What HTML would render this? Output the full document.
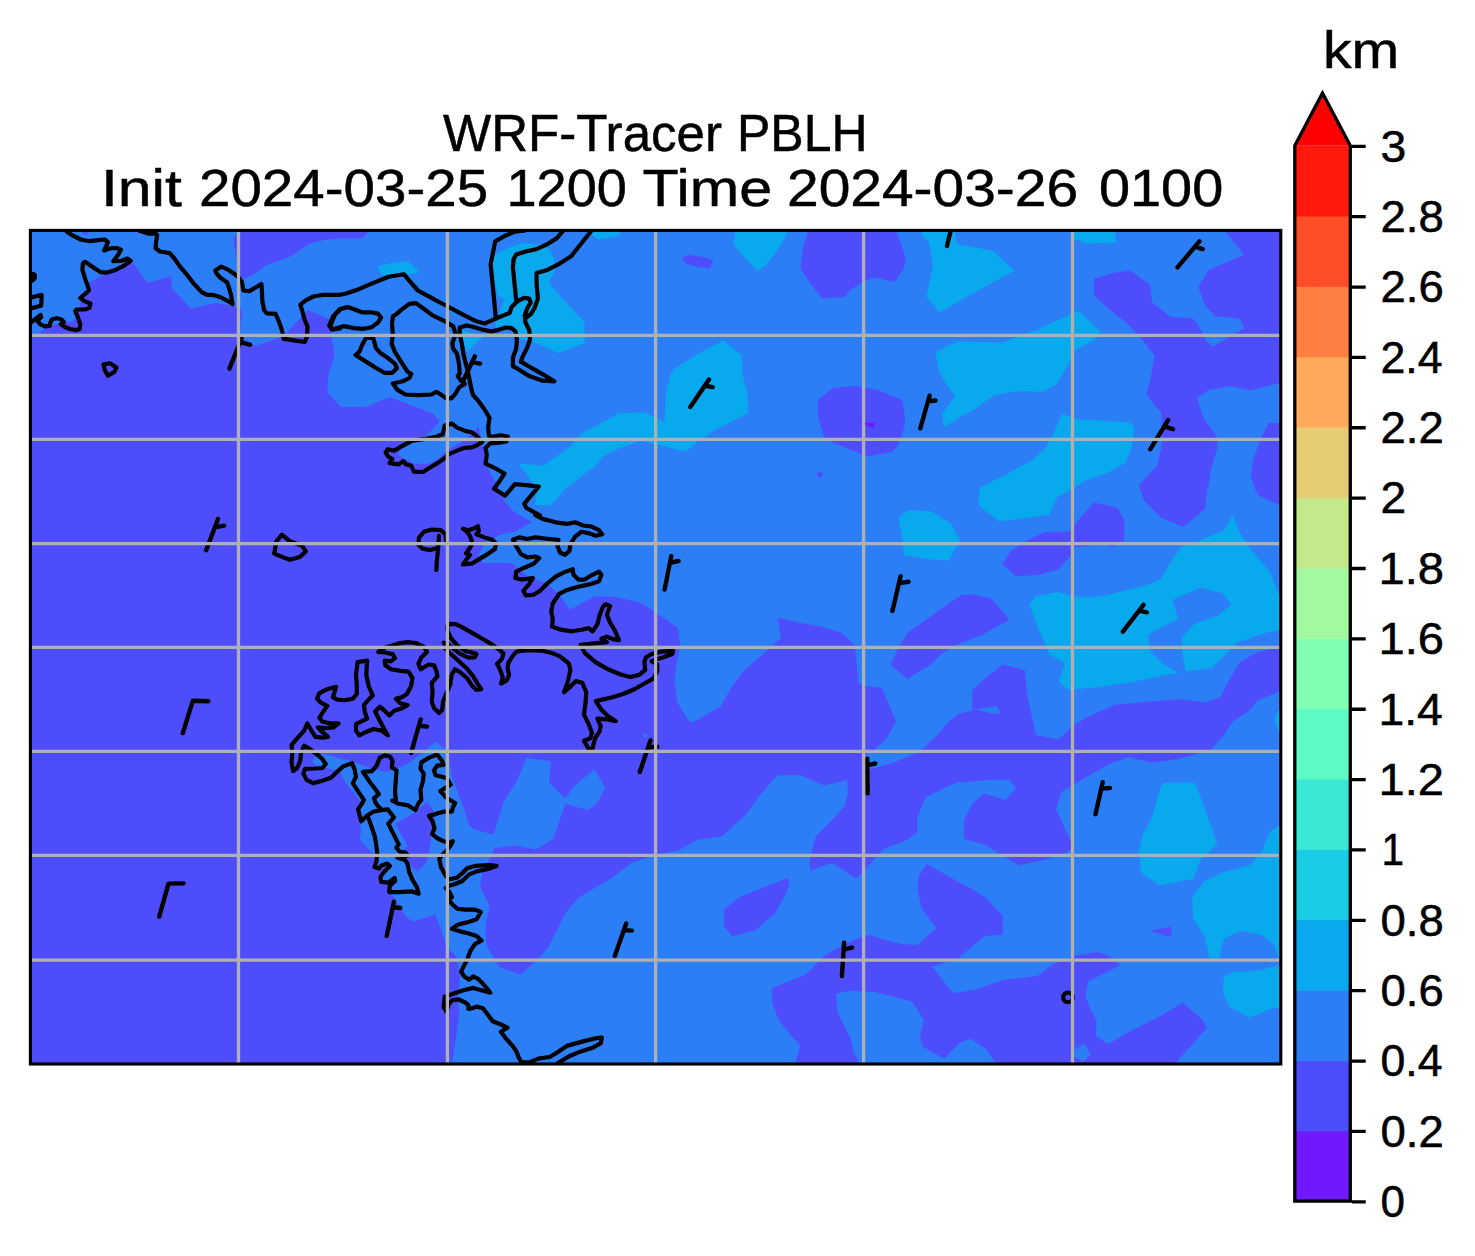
<!DOCTYPE html><html><head><meta charset="utf-8"><title>WRF-Tracer PBLH</title><style>html,body{margin:0;padding:0;background:#fff}svg{display:block}text{font-family:"Liberation Sans",sans-serif;fill:#000;stroke:#000;stroke-width:0.5px}</style></head><body>
<svg width="1475" height="1256" viewBox="0 0 1475 1256">
<rect width="1475" height="1256" fill="#fff"/>
<defs><clipPath id="mc"><rect x="30.4" y="230.4" width="1250.4" height="833.6"/></clipPath></defs>
<g clip-path="url(#mc)" shape-rendering="geometricPrecision">
<rect x="30.4" y="230.4" width="1250.4" height="833.6" fill="#2c7ef7"/>
<polygon points="28.0,333.9 31.9,333.9 37.4,333.7 44.9,328.5 51.5,325.8 62.3,322.5 73.2,320.9 76.9,318.2 79.1,310.0 79.9,304.1 81.3,300.3 85.1,294.8 89.4,282.4 102.4,275.3 115.5,269.9 128.5,256.9 132.8,262.8 147.5,282.9 171.3,275.9 171.9,288.3 180.0,297.0 190.8,308.4 215.8,303.0 232.1,305.7 240.2,307.9 242.9,313.3 241.0,322.0 240.2,337.1 255.9,345.8 283.0,336.6 308.0,310.0 329.7,319.2 331.8,338.2 334.5,355.7 328.5,375.4 327.2,392.5 341.0,406.9 366.0,406.9 389.6,397.1 433.0,413.5 439.6,421.4 433.0,429.3 424.4,436.8 412.6,440.1 404.7,447.3 396.8,454.5 415.2,463.7 428.3,463.7 438.8,458.5 446.7,449.9 463.8,440.7 478.9,426.3 479.6,436.8 482.8,443.4 484.2,455.2 488.1,468.3 495.3,481.5 503.9,499.9 513.7,511.7 532.1,522.2 515.0,531.4 501.9,534.2 486.0,541.4 479.6,552.5 478.0,554.9 482.8,562.9 511.4,562.9 525.8,574.8 546.4,583.6 559.2,593.9 569.5,609.8 595.0,596.3 615.7,597.0 639.6,602.2 655.6,612.6 677.9,627.7 680.3,646.0 676.3,665.1 674.7,681.0 677.0,701.8 687.4,719.3 692.2,722.8 720.9,706.5 731.2,687.4 744.0,670.2 765.3,652.3 781.0,637.7 777.6,617.6 796.6,622.0 821.2,626.5 842.5,633.3 854.8,645.6 857.0,665.7 858.1,682.5 863.7,685.8 881.6,688.0 896.2,721.2 886.0,739.5 874.8,749.3 864.0,756.0 864.0,770.7 893.4,762.7 920.0,751.2 935.3,737.3 948.7,721.6 960.0,713.8 972.3,710.4 972.3,690.3 986.8,676.9 1002.5,664.6 1024.9,670.2 1027.1,694.8 1031.6,714.9 1036.1,735.1 1058.4,739.5 1072.5,726.1 1085.3,718.3 1114.4,704.8 1150.2,701.5 1180.4,699.3 1206.1,702.6 1220.6,697.0 1228.5,681.4 1239.7,662.3 1257.6,652.3 1282.2,646.7 1282.2,690.3 1257.6,700.4 1248.6,711.6 1232.9,721.6 1224.0,735.1 1210.6,750.0 1210.5,749.9 1194.8,754.7 1173.4,760.0 1152.1,762.7 1128.1,757.3 1109.4,764.0 1088.1,776.0 1061.4,792.0 1056.0,809.4 1065.4,829.4 1074.7,848.0 1061.4,854.7 1042.7,860.0 1018.7,865.4 1005.4,857.4 986.7,845.4 964.0,838.7 964.0,820.0 973.3,802.7 984.0,793.4 1005.4,800.0 1016.0,788.0 1009.4,779.5 986.7,780.0 960.0,782.7 962.8,780.0 944.1,788.0 925.4,797.4 917.4,817.4 917.4,832.0 906.8,840.0 882.8,849.4 866.8,868.1 856.1,878.7 832.1,862.7 810.7,870.7 809.4,864.1 812.1,849.4 816.1,836.0 829.4,822.7 844.1,806.7 848.1,793.4 846.8,780.0 824.1,785.4 800.1,775.2 777.4,775.2 761.4,793.4 746.7,813.4 722.7,836.0 697.4,840.0 677.3,850.7 656.0,854.7 640.0,860.0 632.1,862.7 610.7,878.7 578.7,897.4 565.4,913.4 549.4,945.4 538.7,958.8 520.0,974.8 498.7,966.8 486.7,945.4 485.4,926.7 489.4,905.4 480.0,886.7 482.7,870.7 490.7,857.4 494.7,848.0 514.7,845.4 536.0,849.4 553.4,838.7 558.7,822.7 565.4,804.0 588.1,809.9 597.4,802.7 604.9,788.0 594.7,769.3 573.4,786.7 565.4,798.7 549.4,782.7 550.7,761.3 526.7,758.1 517.4,780.0 504.0,801.4 493.4,834.7 474.7,829.4 469.3,825.4 461.3,801.4 452.0,777.3 448.0,752.0 445.2,748.9 435.6,741.7 418.1,756.1 410.1,762.4 397.4,768.8 386.2,772.0 371.9,768.8 352.8,761.6 336.9,757.6 325.7,754.1 316.2,755.3 312.2,760.8 317.0,766.4 324.1,767.2 340.0,771.2 344.8,781.5 352.8,791.1 359.2,800.0 362.1,802.2 357.3,809.3 361.3,830.0 359.7,839.6 370.0,850.7 376.4,855.5 376.1,861.9 374.2,867.3 379.1,869.2 381.5,866.0 386.8,864.3 383.6,871.4 379.6,877.0 380.5,882.3 388.4,883.4 393.9,878.6 389.1,885.8 388.4,892.6 393.9,896.9 401.9,909.6 405.9,916.8 413.0,921.6 435.3,914.4 440.1,927.1 447.2,947.2 456.1,956.1 460.2,976.5 457.8,997.6 459.4,1013.9 456.1,1038.3 451.3,1066.0 28.0,1066.0" fill="#4e4dfc"/>
<polygon points="681.2,258.0 688.8,254.7 702.9,256.9 713.8,260.1 709.4,268.8 696.4,266.6 686.6,264.5" fill="#4e4dfc"/>
<polygon points="808.1,230.8 802.7,248.2 800.5,268.8 811.4,285.1 822.2,298.5 845.0,297.0 849.4,290.5 863.5,281.8 873.2,277.5 894.9,281.8 903.6,268.8 905.8,259.1 900.3,241.7 896.0,230.8" fill="#4e4dfc"/>
<polygon points="833.1,388.1 854.8,386.0 878.6,390.3 902.5,400.1 904.7,415.3 904.7,426.1 898.2,445.6 891.7,452.1 867.8,456.5 848.3,448.9 824.4,439.1 817.9,415.3 817.9,400.1" fill="#4e4dfc"/>
<polygon points="816.2,473.8 821.2,471.2 823.3,474.9 819.6,478.2" fill="#4e4dfc"/>
<polygon points="1224.0,230.1 1244.1,254.7 1208.3,270.3 1198.3,287.1 1205.0,305.0 1215.1,316.2 1239.7,318.4 1244.1,328.5 1212.8,346.4 1206.1,340.8 1198.3,325.2 1192.7,318.4 1170.3,316.7 1152.4,302.8 1150.2,284.9 1130.0,270.3 1112.1,273.2 1094.2,278.6 1094.2,296.1 1112.1,311.7 1125.6,321.8 1141.2,338.6 1154.6,355.4 1151.3,374.4 1146.8,393.4 1154.6,405.7 1161.4,412.4 1161.4,448.2 1156.9,466.1 1139.0,485.1 1143.5,500.1 1161.4,518.0 1183.7,527.0 1205.0,509.1 1208.3,480.0 1208.3,490.0 1210.6,470.6 1217.3,448.2 1217.3,437.0 1203.9,419.1 1197.2,397.9 1208.3,390.0 1230.7,386.0 1250.8,390.5 1282.2,382.2 1282.2,230.1" fill="#4e4dfc"/>
<polygon points="1282.2,423.6 1268.7,422.5 1259.8,441.5 1253.1,459.4 1250.8,475.1 1255.3,490.0 1258.7,495.7 1282.2,506.4" fill="#4e4dfc"/>
<polygon points="1094.2,502.4 1117.7,508.0 1124.4,520.3 1124.4,540.4 1113.3,547.1 1103.2,544.4 1074.1,547.1 1072.5,553.8 1058.4,569.5 1038.3,575.1 1015.9,576.2 1002.5,563.9 1010.3,551.6 1024.9,541.5 1045.0,531.9 1069.6,531.5 1080.8,516.9" fill="#4e4dfc"/>
<polygon points="960.0,595.2 971.2,594.5 991.3,598.6 1009.2,619.8 982.4,634.4 960.0,641.1" fill="#4e4dfc"/>
<polygon points="1149.4,930.7 1170.8,926.7 1172.1,932.1 1169.4,936.9" fill="#4e4dfc"/>
<polygon points="926.8,864.1 960.0,882.7 973.3,889.4 986.7,898.7 1002.7,916.1 1002.7,934.7 985.3,936.1 973.3,945.4 957.5,958.8 932.1,966.8 953.5,993.4 960.0,992.1 976.0,989.4 1002.7,980.1 1037.4,976.1 1053.4,964.1 1074.7,956.1 1097.4,952.1 1109.4,956.1 1120.1,965.4 1088.1,981.4 1085.4,996.1 1090.7,1009.4 1096.1,1020.1 1096.1,1036.1 1108.1,1044.1 1130.7,1030.8 1162.7,1014.8 1182.8,1002.8 1202.8,1020.1 1206.8,1028.1 1194.8,1041.5 1173.4,1065.5 997.3,1065.5 986.7,1049.5 970.7,1038.8 960.0,1042.8 944.1,1058.8 922.8,1046.8 920.1,1036.1 924.1,1020.1 912.1,1001.4 874.8,992.1 850.8,990.8 836.1,993.4 837.4,1012.1 842.7,1022.8 850.8,1038.8 853.4,1052.1 861.4,1066.0 794.7,1066.0 800.1,1045.5 789.4,1033.5 778.7,1020.1 772.1,1002.8 772.1,988.1 805.4,974.8 813.4,966.8 824.1,956.1 837.4,948.1 853.4,940.1 869.4,934.7 885.4,940.1 901.4,944.1 917.4,944.9 936.1,928.1 921.4,908.1 917.4,889.4 918.8,876.1" fill="#4e4dfc"/>
<polygon points="724.0,909.4 738.7,897.4 765.4,886.7 788.1,877.9 789.4,882.7 785.4,894.7 774.7,913.4 754.7,930.7 732.0,936.1 724.0,926.7" fill="#4e4dfc"/>
<polygon points="241.0,228.0 233.1,238.4 235.9,254.7 236.9,263.4 240.7,277.5 245.1,278.6 253.8,274.2 265.7,265.6 284.1,259.0 292.8,255.2 301.5,248.7 310.2,243.3 324.3,240.1 340.0,238.4 362.5,238.4 372.0,228.0" fill="#4e4dfc"/>
<polygon points="395.5,823.7 414.6,812.5 427.4,801.4 435.3,814.1 434.5,823.7 432.1,833.2 428.9,852.3 426.6,861.9 417.8,871.4 411.4,866.7 406.7,857.1 404.3,849.1 407.5,846.0" fill="#4e4dfc"/>
<polygon points="80.7,230.8 85.1,235.2 90.5,230.8" fill="#4e4dfc"/>
<polygon points="959.9,596.3 948.7,603.1 930.8,616.5 908.5,632.1 899.5,645.6 890.6,664.6 907.4,679.1 930.8,664.6 942.0,653.4 957.7,644.4 982.4,634.4 1009.2,619.8 991.3,598.6 971.2,594.5" fill="#4e4dfc"/>
<polygon points="975.7,709.3 996.9,706.0 1000.3,713.1 993.6,714.2" fill="#2c7ef7"/>
<polygon points="1074.7,1049.5 1084.1,1043.6 1090.7,1054.8 1082.7,1061.5 1073.4,1056.1" fill="#2c7ef7"/>
<circle cx="645.4" cy="735.7" r="2" fill="#2c7ef7"/>
<polygon points="499.1,252.6 509.6,247.3 524.1,242.7 539.9,244.7 549.1,248.6 554.3,259.2 555.6,268.4 549.1,282.8 562.2,298.6 584.5,322.2 584.5,343.2 558.2,353.1 547.7,348.5 532.0,341.3 521.5,339.3 516.2,337.3 510.9,328.8 496.5,330.1 495.8,322.9 501.8,306.5 504.4,299.2 497.8,295.9 495.2,284.1 489.3,264.4 488.6,259.2" fill="#09a9ee"/>
<polygon points="462.3,329.5 483.4,336.7 466.9,351.8 463.6,343.2" fill="#09a9ee"/>
<polygon points="588.5,230.9 597.7,239.5 620.0,235.5 620.0,230.9" fill="#09a9ee"/>
<polygon points="735.5,230.8 733.3,243.9 746.3,259.1 757.2,271.0 765.8,265.6 778.8,248.2 788.6,230.8" fill="#09a9ee"/>
<polygon points="1072.5,230.1 1074.1,239.0 1087.5,243.5 1116.6,242.4 1114.4,230.1" fill="#09a9ee"/>
<polygon points="1002.5,342.6 1018.2,336.3 1038.3,329.6 1054.0,321.8 1072.5,314.0 1078.6,310.6 1100.9,331.9 1094.2,339.7 1074.1,350.9 1069.6,363.2 1056.2,384.4 1042.8,391.8 1015.9,391.2 993.6,395.6 973.4,410.2 959.9,417.0 944.1,427.1 941.9,413.9 955.1,396.3 939.7,374.2 935.3,352.2 957.3,341.2" fill="#09a9ee"/>
<polygon points="975.7,490.0 980.1,487.4 1004.7,475.1 1031.6,460.5 1045.0,448.2 1054.0,432.5 1061.8,413.5 1076.3,419.1 1094.2,420.2 1130.0,422.5 1134.5,428.1 1131.2,448.2 1125.6,462.7 1107.7,472.8 1085.3,480.6 1071.9,488.9 1057.3,496.8 1049.5,514.7 999.2,521.4 977.9,504.6 980.1,487.8" fill="#09a9ee"/>
<polygon points="1232.9,514.7 1238.5,530.3 1248.6,547.1 1269.9,571.7 1278.8,594.1 1282.2,596.3 1282.2,629.9 1268.7,632.1 1237.4,642.2 1224.0,655.6 1211.7,667.9 1186.0,671.3 1161.4,675.8 1130.0,682.5 1098.7,686.9 1076.3,689.2 1069.6,690.3 1058.4,681.4 1065.2,663.5 1049.5,654.5 1042.8,638.8 1037.2,625.4 1029.4,604.2 1036.1,596.3 1058.4,591.9 1072.5,596.3 1087.5,597.5 1103.2,595.9 1130.0,589.6 1150.2,584.0 1161.4,578.4 1170.3,562.8 1181.5,547.1 1197.2,541.5 1224.0,530.3" fill="#09a9ee"/>
<polygon points="1282.2,709.3 1278.8,709.3 1274.3,719.4 1278.8,732.8 1282.2,732.8" fill="#09a9ee"/>
<polygon points="1162.7,782.7 1194.8,782.7 1202.8,802.7 1217.4,844.0 1200.1,860.0 1193.4,878.7 1160.1,885.4 1141.4,873.4 1138.7,852.0 1142.7,834.7 1152.1,817.4 1158.7,793.4" fill="#09a9ee"/>
<polygon points="1282.8,822.7 1269.5,832.0 1261.5,852.0 1249.5,865.4 1224.1,872.1 1204.1,881.4 1192.1,897.4 1193.4,918.7 1204.1,934.7 1209.4,957.4 1218.8,958.8 1224.1,938.7 1240.1,930.7 1261.5,934.7 1273.5,944.1 1278.8,958.8 1282.8,960.1" fill="#09a9ee"/>
<polygon points="1282.8,964.1 1258.8,970.8 1234.8,972.1 1224.1,976.1 1222.8,992.1 1229.4,1006.8 1249.5,1017.4 1269.5,1009.4 1282.8,1006.8" fill="#09a9ee"/>
<polygon points="377.7,266.6 388.6,263.4 408.1,261.2 420.0,272.1 412.4,274.2 403.8,273.8 390.8,274.7 382.1,275.3" fill="#09a9ee"/>
<polygon points="723.5,340.4 742.0,355.6 742.0,371.9 747.4,393.6 748.2,413.0 715.9,429.4 698.8,440.7 685.5,451.8 657.0,444.5 640.0,441.1 619.1,448.3 603.9,455.9 593.5,467.3 565.9,488.2 550.7,505.3 535.6,505.3 535.6,495.8 538.4,490.1 518.5,463.5 543.2,465.8 571.6,445.5 581.1,434.1 619.1,413.2 643.8,412.3 664.6,421.8 666.0,393.6 670.4,374.0 675.8,367.5 698.6,353.4" fill="#09a9ee"/>
<polygon points="898.4,518.0 908.5,510.2 930.8,511.3 951.0,523.6 959.9,540.4 948.7,560.5 930.8,559.4 904.0,554.9 901.8,535.9" fill="#09a9ee"/>
<polygon points="922.0,228.8 953.8,228.8 957.3,244.2 992.5,250.8 1014.6,270.7 966.1,297.1 939.7,312.5 926.4,297.1 933.1,264.1 928.6,242.0 922.0,235.4" fill="#09a9ee"/>
<polygon points="1172.5,599.7 1200.5,587.8 1221.8,593.0 1231.8,604.2 1218.4,615.4 1193.8,624.3 1181.5,637.7 1182.6,656.7 1186.0,672.0 1181.5,674.2 1165.8,665.7 1150.2,651.2 1147.9,634.4 1178.1,618.7" fill="#2c7ef7"/>
<polygon points="859.1,422.8 875.4,422.8 873.2,427.8 865.6,425.0" fill="#7019ff"/>
<path d="M66.6 231.4 L72.1 235.2 L80.7 239.5 L89.4 241.2 L98.1 240.1 L104.6 239.5 L107.9 242.2 L105.7 247.1 L104.1 250.4 L110.0 248.4 L116.5 248.0 L120.9 249.8 L118.2 254.7 L113.3 261.2 L120.9 261.0 L127.4 258.5 L130.6 260.7 L124.1 265.6 L115.5 269.9 L106.8 272.6 L100.3 272.1 L93.8 267.7 L85.1 261.8 L82.9 263.4 L82.4 269.9 L85.1 278.6 L87.8 286.2 L88.9 290.5 L84.0 294.8 L80.2 298.1 L85.1 301.4 L90.5 303.5 L89.4 307.9 L85.1 309.5 L76.4 309.5 L75.3 311.1 L78.0 317.6 L80.2 324.1 L79.7 329.0 L76.4 330.1 L69.9 329.0 L64.5 326.8 L60.7 324.1 L63.9 322.0 L61.2 319.3 L56.9 318.2 L52.0 319.3 L50.4 322.5 L49.8 325.8 L44.9 326.3 L40.1 324.1 L37.4 320.9 L41.2 317.1 L40.6 314.9 L30.8 322.5 M30.8 297.6 L41.7 294.8 L41.2 305.7 L30.8 308.4 M30.8 273.7 L34.6 274.8 L34.6 278.6 L30.8 281.3 M495.8 318.9 L494.5 303.8 L492.6 284.1 L490.6 264.4 L493.2 251.3 L495.2 241.4 L505.7 235.5 L514.9 231.6 L525.4 230.3 M563.5 230.3 L556.9 238.1 L546.4 244.7 L535.9 249.3 L524.1 251.9 L516.2 254.6 L513.6 259.2 L512.9 267.0 L514.2 280.2 L515.5 293.3 L516.2 301.2 M591.8 230.3 L581.9 242.7 L571.4 255.9 L558.2 264.4 L546.4 270.3 L536.6 273.0 L536.6 284.1 L537.9 298.6 L534.6 307.8 L530.7 314.3 L525.4 318.3 M329.2 325.5 L333.1 316.3 L339.7 309.1 L347.6 307.1 L355.5 309.7 L362.0 312.3 L371.2 312.3 L377.8 313.6 L381.1 317.6 L377.8 322.8 L371.2 327.4 L363.4 328.8 L354.2 328.1 L344.3 326.1 L337.1 328.1 L331.8 329.4 Z M440.0 318.9 L446.5 322.2 L453.1 326.1 L455.7 334.0 L452.4 343.2 L453.1 348.5 L457.0 353.7 L459.0 364.2 L459.7 373.4 L457.7 376.1 L461.0 380.7 L464.9 383.9 L459.3 387.2 L455.3 393.8 L451.4 398.4 L446.1 398.4 L440.9 394.5 L436.3 391.8 L431.7 394.5 L418.5 395.1 L405.4 394.5 L397.5 389.9 L392.9 383.5 L402.8 381.3 L409.3 378.0 L411.3 374.1 L407.4 371.5 L401.5 362.3 L394.9 351.8 L391.6 343.9 L392.9 334.7 L392.0 324.2 L392.9 316.3 L396.2 314.3 L401.5 309.7 L409.3 303.8 L415.9 303.1 L425.1 309.7 L433.0 315.6 Z M366.0 338.0 L362.0 345.2 L359.4 351.8 L355.5 355.0 L366.0 361.6 L376.5 368.2 L384.4 372.8 L392.3 372.8 L396.9 368.2 L394.9 363.6 L388.3 358.3 L380.4 353.1 L375.8 347.8 L374.5 342.6 L373.2 338.0 Z M444.7 425.6 L452.0 423.6 L457.2 427.6 L465.1 430.9 L471.7 432.2 L476.9 436.1 L482.2 442.0 L476.9 445.3 L471.7 447.3 L463.8 448.0 L457.2 450.6 L449.3 453.9 L444.1 458.5 L437.5 463.1 L429.6 467.7 L423.1 472.0 L413.9 471.6 L411.2 465.7 L406.0 464.4 L403.4 461.1 L398.8 464.4 L389.6 463.1 L392.2 459.1 L388.2 456.5 L385.6 452.6 L387.6 449.3 L394.2 450.6 L402.0 446.0 L412.6 440.7 L425.7 438.8 L436.2 436.8 L442.8 434.2 Z M438.2 547.8 L430.2 550.1 L422.3 548.6 L418.3 544.6 L419.1 537.4 L423.9 531.8 L431.8 529.5 L440.6 530.2 L445.4 534.2 L446.2 542.2 M439.0 535.8 L438.2 547.8 L436.9 560.5 L436.3 570.0 M462.9 528.7 L468.5 530.2 L473.2 528.7 L478.0 526.3 L478.8 531.0 L476.4 534.2 L484.4 537.4 L492.3 539.8 L496.3 543.8 L494.7 549.3 L487.6 554.1 L479.6 558.9 L471.6 563.7 L462.9 564.5 L466.9 558.9 L470.0 554.9 L466.1 553.3 L470.0 547.8 L472.4 543.0 L470.0 535.8 L466.9 531.8 Z M139.3 230.8 L148.0 233.6 L155.6 233.6 L157.2 235.2 L156.1 241.7 L155.6 248.2 L159.9 251.5 L169.7 253.1 L174.0 258.0 L180.0 266.6 L186.5 274.2 L194.1 284.0 L201.7 292.1 L207.1 294.8 L212.5 294.8 L220.1 297.0 L226.6 300.3 L232.6 304.1 L231.0 294.8 L228.8 287.3 L227.2 282.4 L220.1 277.5 L216.3 273.2 L215.3 270.4 L221.2 266.6 L227.7 269.4 L234.2 273.7 L238.6 277.5 L241.8 281.8 L243.5 290.5 L249.4 291.1 L261.4 284.0 L261.9 290.5 L262.4 301.4 L264.1 310.0 L266.8 313.3 L275.5 313.8 L278.7 320.9 L281.4 328.5 L283.1 335.0 L283.6 338.8 L293.9 340.4 L304.7 342.0 L306.9 337.2 L307.5 326.3 L304.7 319.8 L302.0 310.0 L300.4 304.6 L305.8 300.3 L313.4 296.5 L323.2 294.8 L340.0 294.8 L345.2 293.8 L358.2 289.4 L373.4 282.9 L388.6 276.8 L403.8 274.2 L410.3 281.8 L417.9 290.5 L432.0 298.1 L440.0 302.5 L447.9 306.5 L461.0 313.7 L475.5 320.9 L484.7 323.5 L495.2 318.9 L504.4 315.0 L509.6 313.0 L511.6 307.1 L517.5 301.2 L524.1 297.9 L529.3 298.6 L530.7 302.5 L527.4 307.8 L524.7 315.7 L525.4 322.2 L529.3 330.1 L530.0 339.3 L527.4 347.2 L522.8 356.4 L520.8 361.6 L532.0 368.2 L543.8 374.8 L554.3 381.4 L542.5 380.7 L529.3 376.1 L518.8 369.5 L512.9 366.2 L512.9 357.7 L516.2 348.5 L516.9 339.3 L515.5 331.4 L511.6 328.1 L505.7 327.5 L497.8 330.1 L491.2 331.4 L482.0 329.5 L472.8 326.8 L466.3 325.5 L459.7 327.5 L459.7 334.1 L461.7 343.2 L463.6 355.1 L466.3 365.6 L468.9 376.1 L471.5 390.0 L473.1 395.1 L479.0 401.7 L485.5 410.9 L489.5 418.1 L488.2 426.6 L488.8 434.5 L490.8 437.8 L489.4 437.4 L500.6 435.2 L507.8 436.5 L506.5 441.4 L499.3 442.7 L490.1 443.4 L485.5 448.0 L486.8 455.2 L485.5 463.7 L495.3 468.3 L504.5 473.6 L499.3 481.5 L494.0 488.7 L505.2 495.6 L515.0 484.1 L528.2 485.4 L538.7 486.7 L530.8 495.9 L524.2 503.8 L526.2 507.7 L540.0 515.6 L535.3 515.1 L543.3 519.1 L556.0 522.3 L567.1 523.9 L575.1 522.3 L583.1 525.5 L591.0 526.3 L599.0 530.2 L602.2 534.2 L595.8 535.8 L589.4 533.4 L581.5 531.8 L575.1 536.6 L570.3 544.6 L569.5 550.9 L564.8 554.9 L560.0 552.5 L557.6 546.2 L558.4 539.8 L549.6 539.0 L541.7 538.2 L535.3 537.4 L527.4 539.0 L519.4 537.4 L513.0 539.8 L516.2 546.2 L521.0 554.1 L527.4 557.3 L535.3 556.5 L539.3 558.1 L533.7 563.7 L524.2 567.7 L516.2 571.6 L515.4 578.0 L521.0 579.6 L527.4 578.8 L532.9 578.0 L528.9 584.4 L523.4 590.7 L525.8 595.5 L533.7 594.7 L540.1 590.7 L548.0 582.8 L556.0 576.4 L564.0 572.4 L572.7 569.2 L573.5 574.8 L578.3 579.6 L584.7 579.6 L591.0 575.6 L599.0 571.6 L601.4 574.8 L599.0 581.2 L589.4 584.4 L578.3 586.8 L567.1 589.9 L559.2 593.9 L552.8 603.5 L551.2 611.4 L552.8 619.4 L552.0 626.6 L560.8 629.7 L571.9 631.3 L581.5 629.7 L588.6 628.1 L592.6 631.3 L597.4 624.2 L599.8 614.6 L603.0 606.7 L605.4 604.3 L610.1 605.9 L606.9 614.6 L610.1 622.6 L614.9 630.5 L618.9 640.1 L613.3 639.3 L606.9 636.6 L601.4 638.8 L606.9 642.2 L594.2 643.3 L580.7 644.9 L584.7 652.8 L595.8 662.4 L606.9 668.7 L620.0 674.3 L630.1 677.1 L639.6 674.7 L645.2 669.9 L644.4 661.9 L646.0 657.2 L651.6 654.0 L661.9 651.6 L673.1 650.8 L672.3 654.0 L663.5 657.2 L655.6 659.6 L651.6 661.2 L657.2 664.3 L657.2 671.5 L653.2 678.7 L644.4 683.5 L634.9 689.0 L623.7 693.8 L612.6 697.3 L603.0 699.4 L595.8 701.0 L601.4 709.7 L607.8 716.1 L615.8 721.2 L606.2 719.3 L597.4 718.5 L600.6 725.7 L599.8 731.2 L595.0 738.4 L592.7 748.0 L588.7 748.8 L583.9 740.8 L590.3 738.4 L591.9 732.8 L588.7 724.1 L583.9 714.5 L585.5 703.4 L586.3 692.2 L582.3 682.7 L575.9 681.1 L569.6 687.4 L564.0 692.2 L568.0 681.1 L570.4 669.9 L568.8 663.5 L560.0 656.4 L560.0 656.4 L552.9 653.3 L543.3 651.0 L532.2 650.2 L522.6 650.6 L516.2 651.8 L512.3 656.5 L508.3 662.9 L507.5 668.5 L509.1 674.8 L506.7 680.4 L501.1 683.6 L502.7 677.2 L500.3 670.1 L497.1 663.7 L501.9 658.9 L503.5 653.3 L498.7 649.4 L492.4 644.6 L482.8 639.0 L471.7 632.6 L462.1 627.1 L455.7 624.2 L449.4 623.9 L447.0 626.3 L447.8 631.8 L451.0 638.2 L457.3 645.4 L465.3 651.0 L471.7 652.5 L476.4 654.1 L474.8 657.3 L468.5 657.6 L460.5 654.1 L452.5 647.8 L447.8 643.8 L443.8 642.7 M443.8 647.0 L449.4 652.5 L457.3 659.7 L466.9 668.5 L473.2 676.4 L478.0 684.4 L481.2 689.2 L476.4 690.0 L471.7 685.2 L466.9 678.0 L460.5 672.5 L454.9 669.3 L451.8 674.8 L450.2 684.4 L446.2 693.9 L443.0 701.9 L442.2 709.9 L439.0 713.1 L434.2 708.3 L431.8 701.9 L432.6 692.4 L431.8 682.8 L437.4 676.4 L436.6 671.7 L434.2 665.3 L428.7 664.5 L420.7 669.3 L418.3 663.7 L421.5 657.3 L427.1 651.8 L423.9 647.0 L415.9 643.0 L408.0 642.2 L400.0 643.0 L392.6 645.4 L384.6 647.8 L378.3 651.8 L384.6 652.5 L392.6 654.1 L395.0 658.1 L391.0 661.3 L384.6 660.5 L385.4 665.3 L391.0 669.3 L400.6 670.9 L408.5 671.7 L412.5 678.0 L410.9 686.8 L406.9 693.9 L402.2 697.1 L395.8 698.7 L400.6 703.5 L407.7 705.1 L402.2 708.3 L394.2 710.7 L389.4 715.4 L384.6 710.7 L379.9 706.7 L375.1 711.5 L379.9 721.0 L384.6 729.8 L387.8 735.4 L381.5 730.6 L373.5 729.0 L365.5 732.2 L359.2 735.4 L356.0 730.6 L356.0 724.2 L363.9 720.2 L367.1 718.6 L364.7 711.5 L363.9 705.1 L368.7 699.5 L372.7 695.5 L368.7 686.0 L366.3 674.8 L367.1 660.5 L357.6 662.1 L356.0 674.8 L356.8 686.0 L356.8 693.9 L352.8 698.7 L344.8 700.3 L336.9 699.5 L332.9 697.1 L336.1 686.8 L327.3 689.2 L319.4 693.2 L317.0 698.7 L321.0 702.7 L327.3 705.9 L323.3 711.5 L319.4 717.8 L322.5 721.8 L330.5 723.4 L338.5 723.4 L333.7 727.4 L325.7 728.2 L317.8 727.4 L322.5 732.2 L328.1 736.9 L322.5 737.7 L315.4 736.9 L311.4 730.6 L307.4 723.4 L304.2 730.6 L297.1 738.5 L291.5 744.9 L292.3 752.9 L291.5 762.4 L293.1 771.2 L297.1 768.0 L300.3 760.8 L301.1 752.9 L304.2 745.7 L309.8 748.9 L316.2 753.7 L322.5 759.2 L325.7 764.0 L322.5 768.0 L316.2 768.5 L305.0 768.8 L303.4 773.6 L306.6 779.9 L313.0 783.1 L322.5 780.7 L331.3 777.5 L336.9 772.0 L343.2 766.4 L352.0 763.2 L354.4 768.8 L356.0 776.8 L352.8 783.1 L356.8 789.5 L361.6 796.7 L363.9 800.0 L361.3 804.6 L358.1 809.3 L359.7 815.7 L361.3 821.3 L366.9 815.7 L373.2 811.7 L381.2 810.1 L387.6 809.3 L393.9 817.3 L388.4 823.7 L392.3 831.6 L396.3 839.6 L398.7 844.4 L396.3 847.6 L399.5 851.5 L405.1 852.6 L408.2 855.5 L397.4 857.7 L405.1 860.0 L407.5 863.5 L409.0 871.4 L412.2 879.4 L417.0 887.4 L418.6 893.7 L411.4 891.3 L398.7 892.1 L389.1 892.1 L389.9 885.8 L395.2 881.0 L394.7 877.8 L388.4 882.6 L381.2 881.8 L380.4 877.0 L384.4 871.4 L389.9 865.9 L387.2 863.5 L381.5 865.4 L379.1 868.6 L374.5 867.0 L376.4 861.9 L377.2 853.9 L376.4 846.0 L374.8 836.4 L371.6 826.9 L368.5 818.1 M382.0 810.1 L379.6 807.8 L375.6 803.0 L374.0 798.2 L378.8 794.2 L375.6 789.5 L370.0 782.3 L362.9 771.9 L372.0 771.1 L376.7 765.6 L378.8 760.0 M376.7 765.6 L379.9 757.6 M379.9 757.6 L384.6 755.3 L390.2 756.8 L392.6 760.8 L391.8 767.2 L396.6 770.4 L395.8 779.9 L395.0 791.1 L395.8 800.0 L392.3 800.6 L398.7 803.8 L408.2 805.4 L415.4 810.1 L418.6 803.0 L421.3 800.0 L420.5 789.5 L422.9 781.5 L423.7 773.6 L420.5 768.8 L421.3 762.4 L429.2 757.6 L437.2 754.5 L442.0 760.8 L443.6 764.8 L437.2 765.6 L434.0 770.4 L435.6 775.2 L442.0 776.8 L446.8 778.3 L450.7 784.7 L445.2 787.9 L440.4 791.1 L445.2 796.7 L449.9 800.0 L455.2 803.0 L452.8 807.8 L452.0 811.7 L443.3 811.7 L435.3 814.1 L428.9 815.7 L432.9 822.1 L434.5 828.5 L432.1 834.0 L436.9 838.0 L443.3 841.2 L449.6 842.8 L452.8 841.2 L450.4 846.0 L446.5 850.7 L442.5 854.7 L439.3 858.7 L440.9 866.7 L444.9 874.6 L448.8 879.4 L456.8 877.8 L462.4 873.0 L467.1 868.2 L475.1 865.9 L487.8 865.1 L496.6 865.9 L487.8 869.0 L476.7 871.4 L468.7 874.6 L462.4 881.0 L454.4 884.2 L448.8 885.8 L445.7 888.1 L449.6 892.1 L452.0 896.9 L448.8 900.1 L452.8 904.9 L457.6 908.8 L465.6 909.6 L475.1 909.6 L480.7 912.0 L476.7 919.2 L467.1 922.4 L457.6 924.8 L452.0 928.7 L459.2 931.1 L468.7 933.5 L476.7 935.9 L481.5 940.7 L475.1 943.9 L470.3 951.0 L467.1 959.9 L467.0 959.9 L464.3 965.1 L461.0 971.6 L464.3 976.5 L469.2 979.7 L473.2 976.5 L478.1 978.9 L483.0 983.8 L487.9 989.5 L490.3 992.7 L481.4 990.3 L473.2 987.9 L463.5 990.3 L453.7 993.6 L444.7 996.8 L443.6 1007.4 L446.4 1011.5 L448.8 1004.1 L452.1 1000.1 L458.6 999.3 L465.1 1002.5 L468.3 1004.9 L468.3 1009.0 L472.4 1008.2 L476.5 1006.6 L483.0 1008.2 L487.9 1014.7 L492.7 1021.2 L500.9 1024.5 L507.4 1027.7 L500.9 1031.8 L505.8 1038.3 L512.3 1045.6 L516.3 1051.3 L518.8 1057.8 L521.2 1061.9 L528.5 1062.7 L538.3 1058.6 L549.7 1057.0 L557.8 1052.1 L567.6 1045.6 L582.2 1041.6 L595.3 1038.3 L601.8 1037.5 L600.9 1043.2 L592.0 1048.1 L579.0 1052.1 L569.2 1056.2 L561.1 1061.1 L556.2 1064.3 M274.2 553.6 L276.4 541.3 L282.0 534.6 L289.8 541.3 L302.1 545.8 L305.9 551.4 L299.9 556.9 L289.8 559.8 L282.0 556.9 Z M103.5 364.3 L110.0 363.2 L116.5 367.5 L114.4 371.9 L107.9 375.8 L104.6 369.7 Z M340.0 310.0 L335.1 314.4 L331.9 322.0 L330.2 326.8 L331.9 329.6 L340.0 328.5" stroke="#000" stroke-width="4.2" fill="none" stroke-linejoin="round" stroke-linecap="round"/>
<polygon points="30.8,273.2 34.3,273.9 35.4,276.4 34.6,279.1 30.8,282.0" fill="#000" stroke="#000" stroke-width="3" stroke-linejoin="round"/>
<circle cx="1068.0" cy="997.4" r="4.8" stroke="#000" stroke-width="4.2" fill="none"/>
<path d="M463.6 380.0 L474.8 356.4 M473.5 362.3 L480.1 363.6 M664.6 589.6 L671.3 556.1 M411.1 752.9 L420.7 719.4 M419.9 725.8 L427.1 726.6 M386.8 935.9 L393.9 901.7 M393.9 907.3 L400.3 908.0 M614.8 956.1 L626.2 923.6 M625.4 930.1 L631.9 930.6 M690.3 407.0 L709.0 379.5 M706.2 386.0 L712.7 387.1 M920.3 428.3 L929.6 395.7 M928.5 401.2 L935.5 400.5 M947.0 246.0 L950.7 230.8 M1177.5 267.4 L1199.4 241.3 M1196.0 246.8 L1202.7 249.1 M1150.2 449.3 L1168.1 420.2 M1165.8 426.9 L1173.0 429.2 M1122.9 631.7 L1143.5 604.8 M1140.1 610.9 L1146.8 612.4 M1095.5 814.2 L1102.7 782.2 M1102.7 788.6 L1109.9 788.0 M867.6 793.4 L867.3 758.7 M867.3 765.3 L875.3 763.5 M841.9 976.1 L844.1 942.7 M844.1 949.4 L852.1 947.6 M206.2 550.2 L218.0 519.0 M217.4 526.8 L224.0 525.7 M182.8 733.1 L192.8 700.8 L208.4 701.2 M159.2 916.7 L168.5 883.6 L183.5 883.4 M229.4 368.6 L241.7 338.2 M241.7 342.6 L250.0 344.7 M892.4 610.9 L900.6 576.2 M900.6 582.9 L908.5 581.8 M670.2 562.8 L678.5 561.0 M639.8 772.0 L650.5 740.4 M649.4 747.2 L657.3 746.7" stroke="#000" stroke-width="4.4" fill="none" stroke-linejoin="round" stroke-linecap="round"/>
<path d="M238.5 230.4 V1064.0 M447.4 230.4 V1064.0 M655.6 230.4 V1064.0 M863.6 230.4 V1064.0 M1072.5 230.4 V1064.0 M30.4 335.3 H1280.8 M30.4 439.3 H1280.8 M30.4 543.6 H1280.8 M30.4 647.3 H1280.8 M30.4 751.3 H1280.8 M30.4 855.3 H1280.8 M30.4 960.1 H1280.8" stroke="#b0b0b0" stroke-width="3.3" fill="none"/>
</g>
<rect x="30.4" y="230.4" width="1250.4" height="833.6" fill="none" stroke="#000" stroke-width="3.1"/>
<rect x="1294.8" y="1130.83" width="55.5" height="70.87" fill="#7019ff"/>
<rect x="1294.8" y="1060.47" width="55.5" height="70.87" fill="#4e4dfc"/>
<rect x="1294.8" y="990.10" width="55.5" height="70.87" fill="#2c7ef7"/>
<rect x="1294.8" y="919.73" width="55.5" height="70.87" fill="#09a9ee"/>
<rect x="1294.8" y="849.37" width="55.5" height="70.87" fill="#18cde4"/>
<rect x="1294.8" y="779.00" width="55.5" height="70.87" fill="#3ae8d6"/>
<rect x="1294.8" y="708.63" width="55.5" height="70.87" fill="#5df9c7"/>
<rect x="1294.8" y="638.27" width="55.5" height="70.87" fill="#80ffb4"/>
<rect x="1294.8" y="567.90" width="55.5" height="70.87" fill="#a2f9a0"/>
<rect x="1294.8" y="497.53" width="55.5" height="70.87" fill="#c4e88a"/>
<rect x="1294.8" y="427.17" width="55.5" height="70.87" fill="#e6cd73"/>
<rect x="1294.8" y="356.80" width="55.5" height="70.87" fill="#ffa95b"/>
<rect x="1294.8" y="286.43" width="55.5" height="70.87" fill="#ff7e41"/>
<rect x="1294.8" y="216.07" width="55.5" height="70.87" fill="#ff4d27"/>
<rect x="1294.8" y="145.70" width="55.5" height="70.87" fill="#ff190d"/>
<polygon points="1294.8,145.7 1322.5,93.0 1350.3,145.7" fill="#ff0000"/>
<path d="M1294.8 1201.2 L1294.8 145.7 L1322.5 93.0 L1350.3 145.7 L1350.3 1201.2 Z" fill="none" stroke="#000" stroke-width="3.3" stroke-linejoin="miter"/>
<path d="M1351.9 1201.80 H1365.7 M1351.9 1131.43 H1365.7 M1351.9 1061.07 H1365.7 M1351.9 990.70 H1365.7 M1351.9 920.33 H1365.7 M1351.9 849.97 H1365.7 M1351.9 779.60 H1365.7 M1351.9 709.23 H1365.7 M1351.9 638.87 H1365.7 M1351.9 568.50 H1365.7 M1351.9 498.13 H1365.7 M1351.9 427.77 H1365.7 M1351.9 357.40 H1365.7 M1351.9 287.03 H1365.7 M1351.9 216.67 H1365.7 M1351.9 146.30 H1365.7" stroke="#000" stroke-width="3.3" fill="none"/>
<text x="443.00" y="151.30" font-size="52.5" textLength="279.01" lengthAdjust="spacingAndGlyphs">WRF-Tracer</text>
<text x="737.00" y="151.30" font-size="52.5" textLength="130.50" lengthAdjust="spacingAndGlyphs">PBLH</text>
<text x="101.00" y="206.00" font-size="52.5" textLength="80.98" lengthAdjust="spacingAndGlyphs">Init</text>
<text x="199.00" y="206.00" font-size="52.5" textLength="289.11" lengthAdjust="spacingAndGlyphs">2024-03-25</text>
<text x="506.50" y="206.00" font-size="52.5" textLength="120.34" lengthAdjust="spacingAndGlyphs">1200</text>
<text x="642.50" y="206.00" font-size="52.5" textLength="129.65" lengthAdjust="spacingAndGlyphs">Time</text>
<text x="787.00" y="206.00" font-size="52.5" textLength="291.11" lengthAdjust="spacingAndGlyphs">2024-03-26</text>
<text x="1099.00" y="206.00" font-size="52.5" textLength="124.23" lengthAdjust="spacingAndGlyphs">0100</text>
<text x="1323.00" y="67.80" font-size="52.0" textLength="76.24" lengthAdjust="spacingAndGlyphs">km</text>
<text x="1380.50" y="1217.10" font-size="44.0" textLength="24.52" lengthAdjust="spacingAndGlyphs">0</text>
<text x="1380.50" y="1146.73" font-size="44.0" textLength="63.24" lengthAdjust="spacingAndGlyphs">0.2</text>
<text x="1380.50" y="1076.37" font-size="44.0" textLength="62.13" lengthAdjust="spacingAndGlyphs">0.4</text>
<text x="1380.50" y="1006.00" font-size="44.0" textLength="63.22" lengthAdjust="spacingAndGlyphs">0.6</text>
<text x="1380.50" y="935.63" font-size="44.0" textLength="63.22" lengthAdjust="spacingAndGlyphs">0.8</text>
<text x="1381.50" y="865.27" font-size="44.0" textLength="22.56" lengthAdjust="spacingAndGlyphs">1</text>
<text x="1378.50" y="794.90" font-size="44.0" textLength="65.56" lengthAdjust="spacingAndGlyphs">1.2</text>
<text x="1378.50" y="724.53" font-size="44.0" textLength="64.37" lengthAdjust="spacingAndGlyphs">1.4</text>
<text x="1378.50" y="654.17" font-size="44.0" textLength="65.58" lengthAdjust="spacingAndGlyphs">1.6</text>
<text x="1378.50" y="583.80" font-size="44.0" textLength="65.58" lengthAdjust="spacingAndGlyphs">1.8</text>
<text x="1380.50" y="513.43" font-size="44.0" textLength="25.69" lengthAdjust="spacingAndGlyphs">2</text>
<text x="1380.50" y="443.07" font-size="44.0" textLength="63.32" lengthAdjust="spacingAndGlyphs">2.2</text>
<text x="1380.50" y="372.70" font-size="44.0" textLength="62.17" lengthAdjust="spacingAndGlyphs">2.4</text>
<text x="1380.50" y="302.33" font-size="44.0" textLength="63.32" lengthAdjust="spacingAndGlyphs">2.6</text>
<text x="1380.50" y="231.97" font-size="44.0" textLength="63.32" lengthAdjust="spacingAndGlyphs">2.8</text>
<text x="1380.50" y="161.60" font-size="44.0" textLength="25.75" lengthAdjust="spacingAndGlyphs">3</text>
</svg></body></html>
